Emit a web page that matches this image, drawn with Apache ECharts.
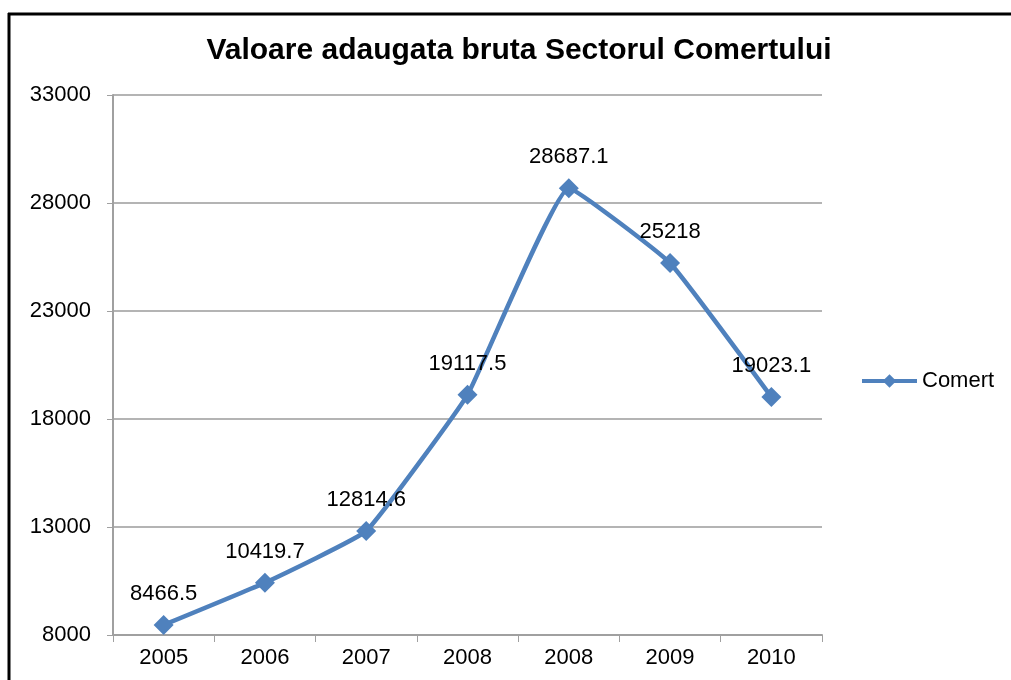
<!DOCTYPE html>
<html>
<head>
<meta charset="utf-8">
<title>Valoare adaugata bruta Sectorul Comertului</title>
<script src="https://cdn.jsdelivr.net/npm/echarts@6/dist/echarts.min.js"></script>
<style>
  html, body { margin: 0; padding: 0; background: #fff; }
  #chart { width: 1011px; height: 680px; }
</style>
</head>
<body>
<div id="chart"></div>
<script>
// date
const years = ['2005', '2006', '2007', '2008', '2008', '2009', '2010'];
const comert = [8466.5, 10419.7, 12814.6, 19117.5, 28687.1, 25218, 19023.1];
const yTicks = [8000, 13000, 18000, 23000, 28000, 33000];

const font = 'Arial, "Liberation Sans", sans-serif';
const blue = '#4F81BD';

const chart = echarts.init(document.getElementById('chart'));

chart.setOption({
  backgroundColor: '#fff',
  animation: false,
  title: {
    text: 'Valoare adaugata bruta Sectorul Comertului',
    left: 514,
    textAlign: 'center',
    top: 31,
    textStyle: { fontFamily: font, fontSize: 30, fontWeight: 'bold', color: '#000' }
  },
  legend: {
    data: ['Comert'],
    left: 855,
    top: 365,
    itemWidth: 55,
    itemHeight: 17,
    itemGap: 4,
    lineStyle: { width: 4 },
    textStyle: { fontFamily: font, fontSize: 22, color: '#000' }
  },
  grid: { left: 113, right: 189, top: 95, bottom: 45, containLabel: false },
  xAxis: {
    type: 'category',
    data: years,
    boundaryGap: true,
    axisLine: { lineStyle: { color: '#a0a0a0', width: 2 } },
    axisTick: { show: true, length: 7, lineStyle: { color: '#a0a0a0', width: 1 } },
    axisLabel: { fontFamily: font, fontSize: 22, color: '#000', margin: 12 }
  },
  yAxis: {
    type: 'value',
    min: yTicks[0],
    max: yTicks[yTicks.length - 1],
    interval: 5000,
    axisLine: { show: true, lineStyle: { color: '#a0a0a0', width: 2 } },
    axisTick: { show: true, length: 6, lineStyle: { color: '#a0a0a0' } },
    splitLine: { lineStyle: { color: '#b4b4b4', width: 2 } },
    axisLabel: { fontFamily: font, fontSize: 22, color: '#000', margin: 22, formatter: v => String(v) }
  },
  series: [{
    name: 'Comert',
    type: 'line',
    data: comert,
    smooth: 0.1,
    symbol: 'diamond',
    symbolSize: 20,
    itemStyle: { color: blue },
    lineStyle: { color: blue, width: 4.5 },
    label: {
      show: true,
      position: 'top',
      distance: 10,
      fontFamily: font,
      fontSize: 22,
      color: '#000'
    }
  }],
  graphic: [
    { type: 'line', shape: { x1: 8, y1: 14, x2: 1011, y2: 14 }, style: { stroke: '#000', lineWidth: 3 } },
    { type: 'line', shape: { x1: 9, y1: 13, x2: 9, y2: 680 }, style: { stroke: '#000', lineWidth: 3 } }
  ]
});
</script>
</body>
</html>
